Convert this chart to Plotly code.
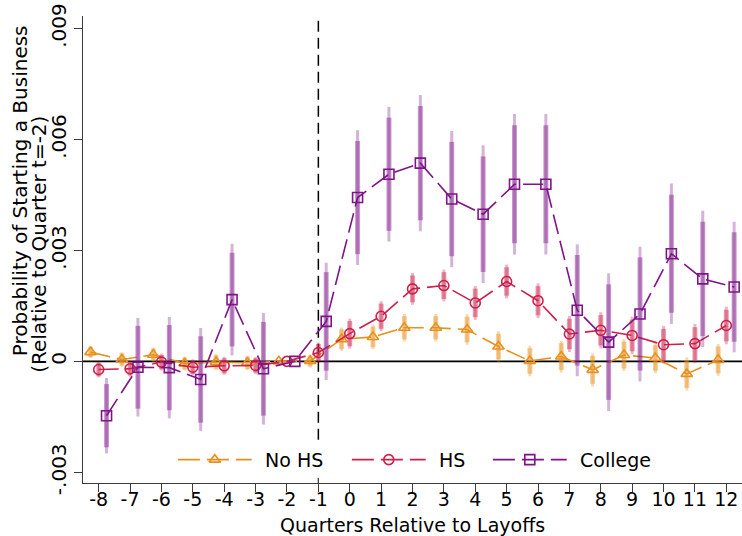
import plotly.graph_objects as go

# Event-time quarters relative to the layoff quarter
quarters = [-8, -7, -6, -5, -4, -3, -2, -1, 0, 1, 2, 3, 4, 5, 6, 7, 8, 9, 10, 11, 12]

# Point estimates (probability of starting a business, relative to t=-2)
nohs_coef = [0.00025, 0.00005, 0.00018, -0.00006, -0.00002, -0.00004, 0.0, 0.00001,
             0.00060, 0.00066, 0.00091, 0.00091, 0.00086, 0.00040, 0.00001,
             0.00013, -0.00023, 0.00017, 0.00009, -0.00034, 0.00004]
hs_coef = [-0.00022, -0.00020, -0.00002, -0.00016, -0.00012, -0.00011, 0.0, 0.00024,
           0.00075, 0.00122, 0.00196, 0.00205, 0.00158, 0.00216, 0.00164,
           0.00074, 0.00084, 0.00070, 0.00045, 0.00048, 0.00097]
college_coef = [-0.00147, -0.00016, -0.00017, -0.00049, 0.00167, -0.00020, 0.0, 0.00108,
                0.00443, 0.00506, 0.00536, 0.00439, 0.00398, 0.00479, 0.00479,
                0.00138, 0.00052, 0.00128, 0.00291, 0.00223, 0.00201]

# Standard errors of the estimates
nohs_se = [0.000083, 0.00010, 0.00010, 0.000097, 0.00011, 0.00010, 0.0, 0.00009,
           0.00016, 0.00017, 0.00019, 0.00019, 0.00021, 0.00021, 0.00021,
           0.00022, 0.00023, 0.00022, 0.00021, 0.00023, 0.00022]
hs_se = [0.00011, 0.00011, 0.000117, 0.00011, 0.000124, 0.000117, 0.0, 0.000138,
         0.000207, 0.000207, 0.00022, 0.00022, 0.000234, 0.000234, 0.00024,
         0.00025, 0.00025, 0.00026, 0.00026, 0.00027, 0.00026]
college_se = [0.00052, 0.00068, 0.00070, 0.00071, 0.00077, 0.00077, 0.0, 0.00081,
              0.00093, 0.00093, 0.00094, 0.00094, 0.00095, 0.00097, 0.00097,
              0.00091, 0.00095, 0.00093, 0.00097, 0.00094, 0.00090]

series_names = ["No HS", "HS", "College"]
y_tick_vals = [-0.003, 0.0, 0.003, 0.006, 0.009]
y_tick_text = ["-.003", "0", ".003", ".006", ".009"]

Z90 = 1.645
Z95 = 1.96

FONT = "DejaVu Sans"
AXIS_COLOR = "#3c3c3c"

styles = {
    "No HS": dict(color="#E8901C", rgb="232,144,28", symbol="triangle-up-open", shift=-0.26),
    "HS": dict(color="#CC1F4A", rgb="204,31,74", symbol="circle-open", shift=0.0),
    "College": dict(color="#7E1488", rgb="126,20,136", symbol="square-open", shift=0.25),
}
data = {
    "No HS": (nohs_coef, nohs_se),
    "HS": (hs_coef, hs_se),
    "College": (college_coef, college_se),
}
LINE_DASH = "20px,7px"

fig = go.Figure()

for name in series_names:
    coef, se = data[name]
    st = styles[name]
    xs = [q + st["shift"] for q in quarters]
    # 95% interval (thin, light) then 90% interval (thick) on top
    for z, width, alpha in ((Z95, 3, 0.33), (Z90, 5, 0.43)):
        fig.add_trace(go.Scatter(
            x=xs, y=coef, mode="markers",
            marker=dict(size=1, opacity=0),
            error_y=dict(type="data", symmetric=True,
                         array=[z * s for s in se],
                         color=f"rgba({st['rgb']},{alpha})",
                         thickness=width, width=0),
            hoverinfo="skip", showlegend=False,
        ))
    fig.add_trace(go.Scatter(
        x=xs, y=coef, mode="lines+markers", name=name,
        line=dict(color=st["color"], width=1.6, dash=LINE_DASH),
        marker=dict(symbol=st["symbol"], size=10, color=st["color"],
                    line=dict(color=st["color"], width=1.6)),
        showlegend=False,
    ))

# Legend keys drawn on an overlay axis spanning the plotting area
legend_y = 0.05
legend_keys = {"No HS": (0.144, 0.256, 0.273),
               "HS": (0.408, 0.520, 0.537),
               "College": (0.622, 0.734, 0.751)}
annotations = []
for name in series_names:
    st = styles[name]
    x0, x1, xt = legend_keys[name]
    fig.add_trace(go.Scatter(
        x=[x0, x1], y=[legend_y, legend_y], xaxis="x2", yaxis="y2",
        mode="lines", line=dict(color=st["color"], width=1.6, dash="22px,7px"),
        hoverinfo="skip", showlegend=False,
    ))
    fig.add_trace(go.Scatter(
        x=[(x0 + x1) / 2], y=[legend_y], xaxis="x2", yaxis="y2",
        mode="markers",
        marker=dict(symbol=st["symbol"], size=10, color=st["color"],
                    line=dict(color=st["color"], width=1.6)),
        hoverinfo="skip", showlegend=False,
    ))
    annotations.append(dict(
        text=name, x=xt, y=legend_y, xref="paper", yref="paper",
        xanchor="left", yanchor="middle", showarrow=False,
        font=dict(family=FONT, size=19, color="black"),
    ))

# Axis titles
annotations.append(dict(
    text="Quarters Relative to Layoffs", x=0.5, y=0, xref="paper", yref="paper",
    xanchor="center", yanchor="top", yshift=-28.5, showarrow=False,
    font=dict(family=FONT, size=19, color="black"),
))
annotations.append(dict(
    text="Probability of Starting a Business", x=0, y=0.625, xref="paper", yref="paper",
    xanchor="center", yanchor="middle", xshift=-63, textangle=-90, showarrow=False,
    font=dict(family=FONT, size=20, color="black"),
))
annotations.append(dict(
    text="(Relative to Quarter t=-2)", x=0, y=0.51, xref="paper", yref="paper",
    xanchor="center", yanchor="middle", xshift=-44, textangle=-90, showarrow=False,
    font=dict(family=FONT, size=20, color="black"),
))

x_range = [-8.5, 12.5]
y_range = [-0.00329, 0.00934]

shapes = [
    # zero reference line
    dict(type="line", xref="x", yref="y", x0=x_range[0], x1=x_range[1], y0=0, y1=0,
         line=dict(color="black", width=1.6), layer="below"),
    # layoff quarter marker
    dict(type="line", xref="x", yref="y", x0=-1, x1=-1, y0=-0.00212, y1=y_range[1],
         line=dict(color="black", width=1.5, dash="11px,6px"), layer="below"),
    dict(type="line", xref="x", yref="y", x0=-1, x1=-1, y0=y_range[0], y1=-0.00315,
         line=dict(color=AXIS_COLOR, width=1.3)),
]

fig.update_layout(
    width=742, height=536,
    margin=dict(l=83, r=0, t=16, b=53),
    paper_bgcolor="white", plot_bgcolor="white",
    font=dict(family=FONT, color="black"),
    showlegend=False,
    xaxis=dict(range=x_range, tickmode="array", tickvals=quarters,
               ticktext=[str(q) for q in quarters],
               ticks="outside", ticklen=8, tickwidth=1.3, tickcolor=AXIS_COLOR,
               ticklabelstandoff=-9,
               showline=True, linecolor=AXIS_COLOR, linewidth=1.3,
               showgrid=False, zeroline=False,
               tickfont=dict(family=FONT, size=19, color="black")),
    yaxis=dict(range=y_range, tickmode="array", tickvals=y_tick_vals, ticktext=y_tick_text,
               tickangle=-90, ticks="outside", ticklen=8, tickwidth=1.3, tickcolor=AXIS_COLOR,
               showline=True, linecolor=AXIS_COLOR, linewidth=1.3,
               showgrid=False, zeroline=False,
               tickfont=dict(family=FONT, size=20, color="black")),
    xaxis2=dict(overlaying="x", anchor="y2", range=[0, 1], visible=False),
    yaxis2=dict(overlaying="y", anchor="x2", range=[0, 1], visible=False),
    shapes=shapes,
    annotations=annotations,
)

fig.write_html("out.html")
